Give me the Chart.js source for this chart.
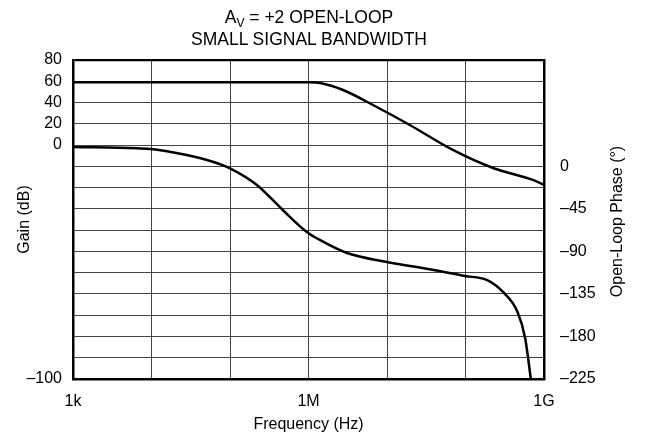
<!DOCTYPE html>
<html>
<head>
<meta charset="utf-8">
<script src="https://cdn.jsdelivr.net/npm/chart.js@4/dist/chart.umd.min.js"></script>
<style>
  html, body { margin: 0; padding: 0; background: #fff; }
  #wrap { position: relative; width: 645px; height: 438px; font-family: 'Liberation Sans', Arial, sans-serif; color: #000; }
  #c { position: absolute; left: 0; top: 0; }
  #title { position: absolute; left: 109px; top: 7px; width: 400px; text-align: center; font-size: 17.5px; line-height: 21.5px; }
  #title sub { font-size: 12px; vertical-align: -4px; line-height: 0; }
</style>
</head>
<body>
<div id="wrap">
  <canvas id="c" width="645" height="438"></canvas>
  <div id="title">A<sub>V</sub> = +2 OPEN-LOOP<br>SMALL SIGNAL BANDWIDTH</div>
</div>
<script>
// ---- data ----
const freqGain = [1e3, 1e4, 1e5, 3e5, 1e6, 1.41e6, 2.75e6, 7.4e6, 1.95e7, 6.9e7, 2.24e8, 7.2e8, 1e9];
const gainDb   = [59, 59, 59, 59, 59, 58.3, 51.8, 35.8, 18.9, -4.6, -21.6, -32.8, -37.5];

const freqPhase = [1e3, 6.5e3, 1e4, 2.8e4, 5.6e4, 1e5, 2.2e5, 4.7e5, 9.5e5, 1.4e6, 3.1e6, 1e7, 3.9e7, 9.8e7, 1.86e8, 3.0e8, 4.6e8, 5.75e8, 6.8e8];
const phaseDeg  = [20.5, 19.1, 18.4, 12, 5.7, -2.1, -19.7, -46.2, -69.4, -77.9, -91.7, -101.2, -109.6, -116, -120.2, -132.9, -154.1, -181.6, -225];

const freqTicks = [1e3, 1e4, 1e5, 1e6, 1e7, 1e8, 1e9];
const freqTickLabels = ['1k', '', '', '1M', '', '', '1G'];

const gainTicks = [80, 60, 40, 20, 0, -20, -40, -60, -80, -100, -120, -140, -160, -180, -200, -220];
const gainTickLabels = ['80', '60', '40', '20', '0', '', '', '', '', '', '', '', '', '', '', '\u2013100'];

const phaseTicks = [112.5, 90, 67.5, 45, 22.5, 0, -22.5, -45, -67.5, -90, -112.5, -135, -157.5, -180, -202.5, -225];
const phaseTickLabels = ['', '', '', '', '', '0', '', '\u201345', '', '\u201390', '', '\u2013135', '', '\u2013180', '', '\u2013225'];

const phaseAxisTitle = 'Open-Loop Phase (\u00B0)';

// ---- chart ----
Chart.defaults.font.family = "'Liberation Sans', Arial, sans-serif";
Chart.defaults.font.size = 16;
Chart.defaults.color = '#000';

const gridColor = '#444';

// right axis title reads bottom-to-top, drawn next to the right scale
const rightTitlePlugin = {
  id: 'rightTitle',
  afterDraw(chart) {
    const s = chart.scales.yPhase;
    const ctx = chart.ctx;
    ctx.save();
    ctx.translate(s.right - 27, (chart.chartArea.top + chart.chartArea.bottom) / 2 + 2);
    ctx.rotate(-Math.PI / 2);
    ctx.font = "16px 'Liberation Sans', Arial, sans-serif";
    ctx.fillStyle = '#000';
    ctx.textAlign = 'center';
    ctx.textBaseline = 'middle';
    ctx.fillText(phaseAxisTitle, 0, 0);
    ctx.restore();
  }
};

new Chart(document.getElementById('c'), {
  type: 'line',
  data: {
    datasets: [
      {
        label: 'Gain',
        data: freqGain.map((f, i) => ({ x: f, y: gainDb[i] })),
        yAxisID: 'yGain',
        borderColor: '#000',
        borderWidth: 2.5,
        pointRadius: 0,
        fill: false,
        cubicInterpolationMode: 'monotone'
      },
      {
        label: 'Phase',
        data: freqPhase.map((f, i) => ({ x: f, y: phaseDeg[i] })),
        yAxisID: 'yPhase',
        borderColor: '#000',
        borderWidth: 2.5,
        pointRadius: 0,
        fill: false,
        cubicInterpolationMode: 'monotone'
      }
    ]
  },
  options: {
    responsive: false,
    animation: false,
    layout: { padding: { top: 60, left: 0, right: 0, bottom: 0 } },
    plugins: { legend: { display: false }, title: { display: false }, tooltip: { enabled: false } },
    scales: {
      x: {
        type: 'logarithmic',
        min: 1e3,
        max: 1e9,
        afterBuildTicks: s => { s.ticks = freqTicks.map(v => ({ value: v })); },
        afterFit: s => { s.height = 59; },
        ticks: {
          autoSkip: false,
          maxRotation: 0,
          padding: 13,
          callback: v => { const i = freqTicks.indexOf(v); return i >= 0 ? freqTickLabels[i] : ''; }
        },
        grid: { color: gridColor, lineWidth: 1, drawTicks: false },
        border: { display: true, color: '#000', width: 2.5 },
        title: { display: true, text: 'Frequency (Hz)', padding: { top: 0, bottom: 4 } }
      },
      yGain: {
        type: 'linear',
        position: 'left',
        min: -220,
        max: 80,
        afterBuildTicks: s => { s.ticks = gainTicks.slice().reverse().map(v => ({ value: v })); },
        afterFit: s => { s.width = 73; },
        ticks: {
          autoSkip: false,
          padding: 11,
          callback: v => { const i = gainTicks.indexOf(v); return i >= 0 ? gainTickLabels[i] : ''; }
        },
        grid: {
          drawTicks: false,
          color: ctx => (ctx.tick && ctx.tick.value === 80) ? '#000' : gridColor,
          lineWidth: ctx => (ctx.tick && ctx.tick.value === 80) ? 2.2 : 1
        },
        border: { display: true, color: '#000', width: 2.5 },
        title: { display: true, text: 'Gain (dB)', padding: { top: 15, bottom: 0 } }
      },
      yPhase: {
        type: 'linear',
        position: 'right',
        min: -225,
        max: 112.5,
        afterBuildTicks: s => { s.ticks = phaseTicks.slice().reverse().map(v => ({ value: v })); },
        afterFit: s => { s.width = 101; },
        ticks: {
          autoSkip: false,
          padding: 16,
          callback: v => { const i = phaseTicks.indexOf(v); return i >= 0 ? phaseTickLabels[i] : ''; }
        },
        grid: { drawOnChartArea: false, drawTicks: false },
        border: { display: true, color: '#000', width: 2.5 },
        title: { display: false }
      }
    }
  },
  plugins: [rightTitlePlugin]
});
</script>
</body>
</html>
